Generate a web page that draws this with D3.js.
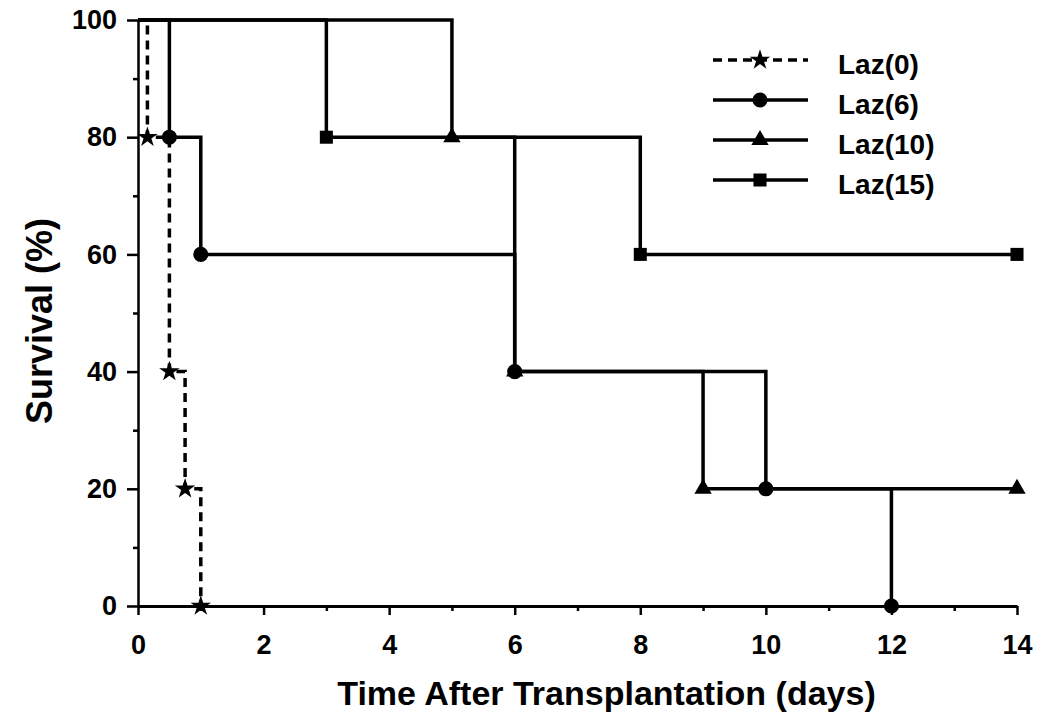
<!DOCTYPE html>
<html>
<head>
<meta charset="utf-8">
<script src="https://cdn.jsdelivr.net/npm/d3@7"></script>
<style>
  body { margin: 0; background: #fff; }
  svg { display: block; }
  text { font-family: "Liberation Sans", Arial, sans-serif; font-weight: bold; fill: #000; }
</style>
</head>
<body>
<div id="chart"></div>
<script>
// survival data (days, % surviving)
var laz0Days = [0, 0.15, 0.5, 0.75, 1];
var laz0Surv = [100, 80, 40, 20, 0];
var laz6Days = [0, 0.5, 1, 6, 10, 12];
var laz6Surv = [100, 80, 60, 40, 20, 0];
var laz10Days = [0, 5, 6, 9, 14];
var laz10Surv = [100, 80, 40, 20, 20];
var laz15Days = [0, 3, 8, 14];
var laz15Surv = [100, 80, 60, 60];

var seriesNames = ['Laz(0)', 'Laz(6)', 'Laz(10)', 'Laz(15)'];
var xMajorTicks = [0, 2, 4, 6, 8, 10, 12, 14];
var xMinorTicks = [1, 3, 5, 7, 9, 11, 13];
var yMajorTicks = [0, 20, 40, 60, 80, 100];
var yMinorTicks = [10, 30, 50, 70, 90];

function zip(days, surv) {
    return days.map(function (d, i) { return { x: d, y: surv[i] }; });
}

var series = [
    { name: seriesNames[3], data: zip(laz15Days, laz15Surv), symbol: d3.symbolSquare, size: 170, dash: null },
    { name: seriesNames[2], data: zip(laz10Days, laz10Surv), symbol: d3.symbolTriangle, size: 130, dash: null },
    { name: seriesNames[1], data: zip(laz6Days, laz6Surv), symbol: d3.symbolCircle, size: 180, dash: null },
    { name: seriesNames[0], data: zip(laz0Days, laz0Surv), symbol: d3.symbolStar, size: 130, dash: '9,6' }
];

var margin = { top: 20, right: 33, bottom: 121, left: 138 },
    width = 1050 - margin.left - margin.right,
    height = 727 - margin.top - margin.bottom;

var svg = d3.select('#chart').append('svg')
    .attr('width', 1050)
    .attr('height', 727)
    .append('g')
    .attr('transform', 'translate(' + margin.left + ',' + margin.top + ')');

var xScale = d3.scaleLinear().domain([0, 14]).range([0, width]);
var yScale = d3.scaleLinear().domain([0, 100]).range([height, 0]);

// x axis: labelled ticks every 2 days, small ticks in between
svg.append('g')
    .attr('transform', 'translate(0,' + height + ')')
    .call(d3.axisBottom(xScale).tickValues(xMajorTicks).tickSize(9).tickSizeOuter(0).tickPadding(20).tickFormat(d3.format('d')));
svg.append('g')
    .attr('transform', 'translate(0,' + height + ')')
    .call(d3.axisBottom(xScale).tickValues(xMinorTicks).tickSize(5).tickFormat(''))
    .select('.domain').remove();

// y axis
var yAxis = svg.append('g')
    .call(d3.axisLeft(yScale).tickValues(yMajorTicks).tickSize(11).tickSizeOuter(0).tickPadding(10));
svg.append('g')
    .call(d3.axisLeft(yScale).tickValues(yMinorTicks).tickSize(5).tickFormat(''))
    .select('.domain').remove();

svg.selectAll('.domain').attr('stroke', '#000').attr('stroke-width', 3);
svg.selectAll('.tick line').attr('stroke', '#000').attr('stroke-width', 2.5);
yAxis.select('.domain').attr('stroke-width', 2.5);
svg.selectAll('.tick text').style('font-size', '27px').attr('fill', '#000');

// axis titles
svg.append('text')
    .attr('x', width / 2 + 29)
    .attr('y', height + 99)
    .style('text-anchor', 'middle')
    .style('font-size', '34px')
    .text('Time After Transplantation (days)');

svg.append('text')
    .attr('transform', 'translate(' + (52 - margin.left) + ',' + (height / 2 + 8) + ') rotate(-90)')
    .style('text-anchor', 'middle')
    .style('font-size', '36px')
    .text('Survival (%)');

// step lines
var line = d3.line()
    .x(function (d) { return xScale(d.x); })
    .y(function (d) { return yScale(d.y); })
    .curve(d3.curveStepAfter);

series.forEach(function (s) {
    svg.append('path')
        .datum(s.data)
        .attr('fill', 'none')
        .attr('stroke', '#000')
        .attr('stroke-width', 3.5)
        .attr('stroke-dasharray', s.dash)
        .attr('d', line);
});

// markers at every step and at the censored end points
series.forEach(function (s) {
    svg.selectAll(null)
        .data(s.data.slice(1))
        .enter().append('path')
        .attr('fill', '#000')
        .attr('d', d3.symbol().type(s.symbol).size(s.size))
        .attr('transform', function (d) {
            return 'translate(' + xScale(d.x) + ',' + yScale(d.y) + ')';
        });
});

// legend
var legend = svg.append('g')
    .attr('transform', 'translate(' + (713 - margin.left) + ',' + (60 - margin.top) + ')');

var legendItems = series.slice().reverse();
legendItems.forEach(function (s, i) {
    var g = legend.append('g').attr('transform', 'translate(0,' + (i * 40) + ')');
    g.append('line')
        .attr('x1', 0).attr('x2', 95)
        .attr('y1', 0).attr('y2', 0)
        .attr('stroke', '#000')
        .attr('stroke-width', 3.5)
        .attr('stroke-dasharray', s.dash);
    g.append('path')
        .attr('fill', '#000')
        .attr('d', d3.symbol().type(s.symbol).size(s.size))
        .attr('transform', 'translate(47,0)');
    g.append('text')
        .attr('x', 125)
        .attr('y', 14)
        .style('font-size', '28px')
        .text(s.name);
});
</script>
</body>
</html>
